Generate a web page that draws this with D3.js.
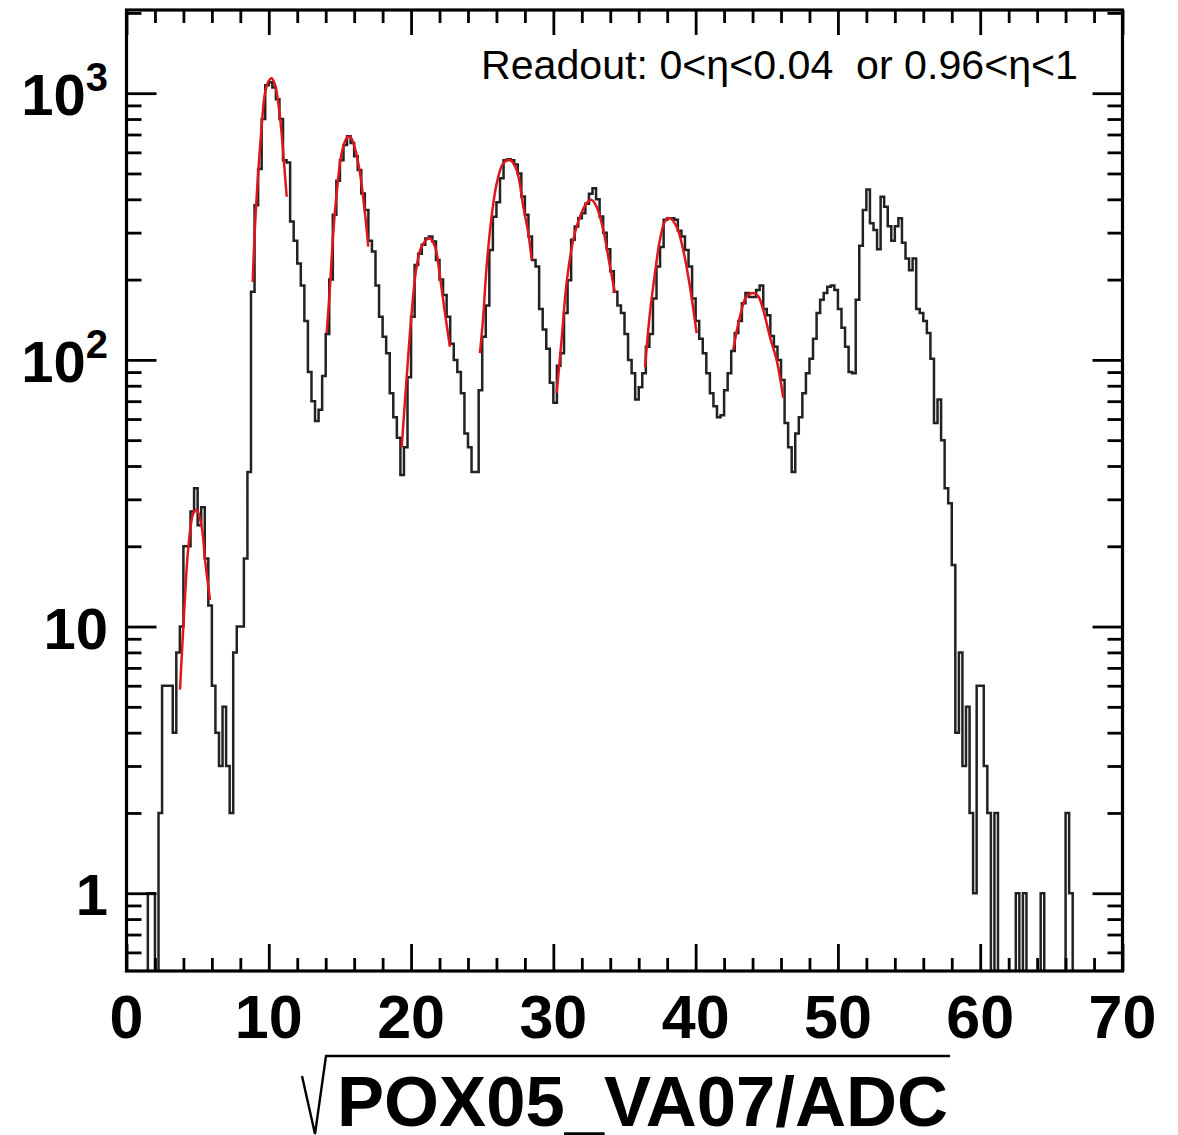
<!DOCTYPE html>
<html>
<head>
<meta charset="utf-8">
<script src="https://cdn.jsdelivr.net/npm/d3@7"></script>
<style>
  body { margin: 0; background: #fff; }
  svg text { font-family: "Liberation Sans", Arial, Helvetica, sans-serif; }
</style>
</head>
<body>
<div id="chart"></div>
<script>
// histogram of sqrt(POX05_VA07/ADC), bins of 0.25 starting at 0
var binStart = 0, binWidth = 0.25;
var counts = [
  0,0,0,0,0,0,1,1,0,2, 6,6,6,4,8,10,20,20,27,33,
  24,28,18,12,6,4,3,5,3,2, 8,10,10,18,38,180,380,520,800,1070,
  1100,1050,950,800,560,550,330,280,230,190, 140,90,70,59,65,87,125,200,350,470,
  560,640,690,650,580,515,421,365,280,255, 190,145,122,106,75,61,51,37,47,86,
  145,227,250,270,285,290,278,237,200,175, 145,115,100,90,75,53,47,38,38,77,
  122,160,258,344,390,480,560,565,560,540, 500,410,350,290,237,224,155,130,110,82,
  69,95,106,150,199,282,316,340,355,385, 420,440,400,345,300,260,215,180,160,150,
  125,100,89,71,79,89,112,125,170,224, 265,335,340,340,335,305,290,258,224,170,
  140,120,106,89,75,67,61,62,77,89, 108,126,140,163,178,172,172,183,190,155,
  147,123,112,100,84,58,47,38,53,61, 75,89,101,120,150,168,178,188,190,183,
  155,132,112,90,89,168,268,365,435,325, 307,260,409,375,317,280,317,340,275,240,
  217,240,155,150,140,126,101,58,71,50, 33,29,17,4,8,3,5,2,1,6,
  6,3,2,0,2,0,0,0,0,0, 1,0,1,0,0,0,0,1,0,0,
  0,0,0,0,2,1,0,0,0,0, 0,0,0,0,0,0,0,0,0,0
];

// red gaussian fits, points as [x, count]
var fitPeak1 = [[3.76,5.8],[4.11,12.9],[4.35,19.9],[4.70,26.6],[4.93,27.4],[5.28,23.7],[5.52,17.8],[5.87,12.6]];
var fitPeak2 = [[8.87,196],[9.03,316],[9.27,515],[9.50,750],[9.73,1000],[9.97,1105],[10.20,1137],[10.44,1074],[10.67,916],[10.90,708],[11.09,531],[11.26,409]];
var fitPeak3 = [[14.07,126],[14.30,188],[14.53,298],[14.77,421],[15.12,595],[15.47,678],[15.71,687],[16.06,621],[16.41,501],[16.76,355],[16.99,266]];
var fitPeak4 = [[19.34,47],[19.69,86],[20.04,150],[20.39,224],[20.74,266],[21.28,286],[21.68,266],[22.03,205],[22.38,150],[22.73,112]];
var fitPeak5 = [[24.84,106],[25.07,145],[25.31,224],[25.66,344],[26.02,459],[26.48,546],[26.95,562],[27.42,515],[27.89,375],[28.24,298],[28.48,237]];
var fitPeak6 = [[30.23,75],[30.58,119],[30.93,194],[31.40,282],[31.87,344],[32.34,387],[32.69,398],[33.04,375],[33.51,307],[33.98,224],[34.33,178]];
var fitPeak7 = [[36.44,94],[36.79,150],[37.14,211],[37.49,282],[37.84,330],[38.19,340],[38.66,316],[39.13,258],[39.60,188],[40.07,126]];
var fitPeak8 = [[42.64,109],[43.11,145],[43.58,173],[44.05,178],[44.40,173],[44.75,154],[45.22,122],[45.69,100],[46.16,72]];
var fits = [fitPeak1, fitPeak2, fitPeak3, fitPeak4, fitPeak5, fitPeak6, fitPeak7, fitPeak8];

var xTickValues = [0, 10, 20, 30, 40, 50, 60, 70];
var xTickLabels = ["0", "10", "20", "30", "40", "50", "60", "70"];
var yTickValues = [1, 10, 100, 1000];
var yTickBase = ["1", "10", "10", "10"];
var yTickExp = ["", "", "2", "3"];

var w = 1178, h = 1135;
var padL = 126.5, padR = 1122.5, padT = 10, padB = 971;

var svg = d3.select("#chart")
  .append("svg")
  .attr("width", w)
  .attr("height", h);

var x = d3.scaleLinear().domain([0, 70]).range([padL, padR]);
var y = d3.scaleLog().domain([0.511, 2051]).range([padB, padT]);

svg.append("clipPath")
  .attr("id", "plotclip")
  .append("rect")
  .attr("x", padL).attr("y", padT)
  .attr("width", padR - padL).attr("height", padB - padT);

//histogram outline, empty bins fall below the frame like in ROOT
var steps = counts.map(function(c, i) { return [binStart + i * binWidth, c]; });
steps.push([binStart + counts.length * binWidth, counts[counts.length - 1]]);

var histLine = d3.line()
  .x(function(d) { return x(d[0]); })
  .y(function(d) { return y(d[1] > 0 ? d[1] : 0.3); })
  .curve(d3.curveStepAfter);

svg.append("path")
  .datum(steps)
  .attr("clip-path", "url(#plotclip)")
  .attr("d", histLine)
  .style("fill", "none")
  .style("stroke", "#222")
  .style("stroke-width", 2.5);

//fits
var fitLine = d3.line()
  .x(function(d) { return x(d[0]); })
  .y(function(d) { return y(d[1]); })
  .curve(d3.curveCatmullRom);

svg.selectAll(".fit")
  .data(fits)
  .enter()
  .append("path")
  .attr("class", "fit")
  .attr("clip-path", "url(#plotclip)")
  .attr("d", fitLine)
  .style("fill", "none")
  .style("stroke", "#e0161b")
  .style("stroke-width", 2.5);

//ticks on all four sides, pointing inwards
var xMinor = d3.range(0, 71, 2).filter(function(v) { return v % 10 != 0; });
var yMinor = [];
[0.1, 1, 10, 100, 1000].forEach(function(dec) {
  for (var m = 2; m <= 9; m++) {
    var v = m * dec;
    if (v > 0.511 && v < 2051) yMinor.push(v);
  }
});

function ticks(axis, tx, ty) {
  var g = svg.append("g")
    .attr("transform", "translate(" + tx + "," + ty + ")")
    .call(axis);
  g.select(".domain").remove();
  g.selectAll("line").style("stroke", "#000").style("stroke-width", 2.8);
  g.selectAll("text").remove();
}

ticks(d3.axisBottom(x).tickValues(xTickValues).tickSize(-27), 0, padB);
ticks(d3.axisBottom(x).tickValues(xMinor).tickSize(-13), 0, padB);
ticks(d3.axisTop(x).tickValues(xTickValues).tickSize(-25), 0, padT);
ticks(d3.axisTop(x).tickValues(xMinor).tickSize(-13), 0, padT);
ticks(d3.axisLeft(y).tickValues(yTickValues).tickSize(-30), padL, 0);
ticks(d3.axisLeft(y).tickValues(yMinor).tickSize(-15), padL, 0);
ticks(d3.axisRight(y).tickValues(yTickValues).tickSize(-30), padR, 0);
ticks(d3.axisRight(y).tickValues(yMinor).tickSize(-15), padR, 0);

//frame
svg.append("rect")
  .attr("x", padL).attr("y", padT)
  .attr("width", padR - padL).attr("height", padB - padT)
  .style("fill", "none")
  .style("stroke", "#000")
  .style("stroke-width", 3.2);

//tick labels
svg.selectAll(".xlab")
  .data(xTickValues)
  .enter()
  .append("text")
  .attr("class", "xlab")
  .attr("x", function(d) { return x(d); })
  .attr("y", 1038)
  .style("text-anchor", "middle")
  .style("font-size", "61px")
  .style("font-weight", "bold")
  .text(function(d, i) { return xTickLabels[i]; });

var ylab = svg.selectAll(".ylab")
  .data(yTickValues)
  .enter()
  .append("text")
  .attr("class", "ylab")
  .attr("x", 108)
  .attr("y", function(d) { return y(d) + 22; })
  .style("text-anchor", "end")
  .style("font-weight", "bold");

ylab.append("tspan")
  .style("font-size", "58px")
  .text(function(d, i) { return yTickBase[i]; });

ylab.append("tspan")
  .attr("dy", -24)
  .style("font-size", "40px")
  .text(function(d, i) { return yTickExp[i]; });

//readout label
svg.append("text")
  .attr("x", 481)
  .attr("y", 79)
  .attr("textLength", 597)
  .attr("lengthAdjust", "spacingAndGlyphs")
  .style("font-size", "40px")
  .style("white-space", "pre")
  .text("Readout: 0<\u03b7<0.04  or 0.96<\u03b7<1");

//x title with a square root sign
svg.append("path")
  .attr("d", "M302,1076 L315,1134 L326,1056 L950,1056")
  .style("fill", "none")
  .style("stroke", "#000")
  .style("stroke-width", 2.4);

svg.append("text")
  .attr("x", 337)
  .attr("y", 1126)
  .attr("textLength", 611)
  .attr("lengthAdjust", "spacingAndGlyphs")
  .style("font-size", "70px")
  .style("font-weight", "bold")
  .text("POX05_VA07/ADC");
</script>
</body>
</html>
